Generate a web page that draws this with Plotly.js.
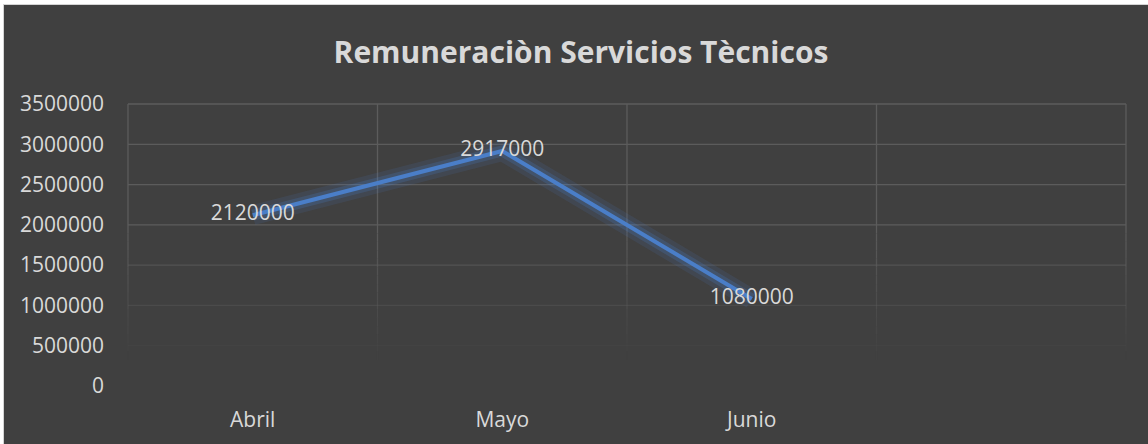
<!DOCTYPE html>
<html>
<head>
<meta charset="utf-8">
<script src="https://cdn.plot.ly/plotly-3.0.1.min.js"></script>
<style>
  html, body { margin: 0; padding: 0; background: #ffffff; width: 1148px; height: 444px; overflow: hidden; }
  #chart { position: absolute; left: 3px; top: 4px; width: 1144px; height: 439px;
           border-left: 1px solid #d4d4d4; border-top: 1px solid #d4d4d4; }
</style>
</head>
<body>
<div id="chart"></div>
<script>
// ---- data ----
const categories = ["Abril", "Mayo", "Junio"];
const slotCategories = ["Abril", "Mayo", "Junio", " "];
const values = [2120000, 2917000, 1080000];
const labels = ["2120000", "2917000", "1080000"];
const yTicks = [0, 500000, 1000000, 1500000, 2000000, 2500000, 3000000, 3500000];
const yMax = 3500000;
const titleText = "Remuneraciòn Servicios Tècnicos";

const lineColor = "#4a7ec8";
const textColor = "#d9d9d9";
const bg = "#404040";
const fontFam = "Open Sans";

const glowOuter = {
  x: categories, y: values, type: "scatter", mode: "lines",
  line: { color: "rgba(74,126,200,0.13)", width: 20 },
  hoverinfo: "skip", showlegend: false
};
const glowInner = {
  x: categories, y: values, type: "scatter", mode: "lines",
  line: { color: "rgba(74,126,200,0.22)", width: 11 },
  hoverinfo: "skip", showlegend: false
};
const main = {
  x: categories, y: values, type: "scatter", mode: "lines+text",
  line: { color: lineColor, width: 4 },
  text: labels, textposition: "middle center",
  textfont: { family: fontFam, size: 21, color: textColor },
  showlegend: false
};

// gridlines drawn as decorative shapes so they can fade out towards the bottom
const fadeTop = 0.571, fadeBot = 0.092;
function alphaAt(p) {
  if (p >= fadeTop) return 1;
  if (p <= fadeBot) return 0;
  return (p - fadeBot) / (fadeTop - fadeBot);
}
function gridCol(a) { return "rgba(92,92,92," + a.toFixed(3) + ")"; }
const shapes = [];
yTicks.forEach(function (v) {
  const p = v / yMax;
  const a = alphaAt(p);
  if (a <= 0) return;
  shapes.push({ type: "line", layer: "below", xref: "paper", yref: "paper",
    x0: 0, x1: 1, y0: p, y1: p, line: { color: gridCol(a), width: 1.3 } });
});
const nSlots = slotCategories.length;
const nSeg = 16;
for (let k = 0; k <= nSlots; k++) {
  const xp = k / nSlots;
  shapes.push({ type: "line", layer: "below", xref: "paper", yref: "paper",
    x0: xp, x1: xp, y0: fadeTop, y1: 1, line: { color: gridCol(1), width: 1.3 } });
  for (let s = 0; s < nSeg; s++) {
    const y1 = fadeTop - (fadeTop - fadeBot) * s / nSeg;
    const y0 = fadeTop - (fadeTop - fadeBot) * (s + 1) / nSeg;
    shapes.push({ type: "line", layer: "below", xref: "paper", yref: "paper",
      x0: xp, x1: xp, y0: y0, y1: y1, line: { color: gridCol(alphaAt((y0 + y1) / 2)), width: 1.3 } });
  }
}

const layout = {
  width: 1144, height: 439,
  paper_bgcolor: bg, plot_bgcolor: bg,
  margin: { l: 124, r: 22, t: 99, b: 58 },
  title: { text: "<b>" + titleText + "</b>", x: 577 / 1144, xref: "container", xanchor: "center",
           y: 1 - 47 / 439, yref: "container", yanchor: "middle",
           font: { family: fontFam, size: 30, color: textColor } },
  xaxis: {
    type: "category", categoryorder: "array", categoryarray: slotCategories,
    range: [-0.5, 3.5], ticks: "",
    showgrid: false, showline: false, zeroline: false,
    tickfont: { family: fontFam, size: 21, color: textColor },
    ticklabelstandoff: 19, fixedrange: true
  },
  yaxis: {
    range: [0, yMax], tickvals: yTicks, ticktext: yTicks.map(String),
    showgrid: false, zeroline: false, showline: false, ticks: "",
    tickfont: { family: fontFam, size: 21, color: textColor },
    ticklabelstandoff: 23, fixedrange: true
  },
  shapes: shapes,
  showlegend: false
};

Plotly.newPlot("chart", [glowOuter, glowInner, main], layout, { displayModeBar: false, staticPlot: true });
</script>
</body>
</html>
